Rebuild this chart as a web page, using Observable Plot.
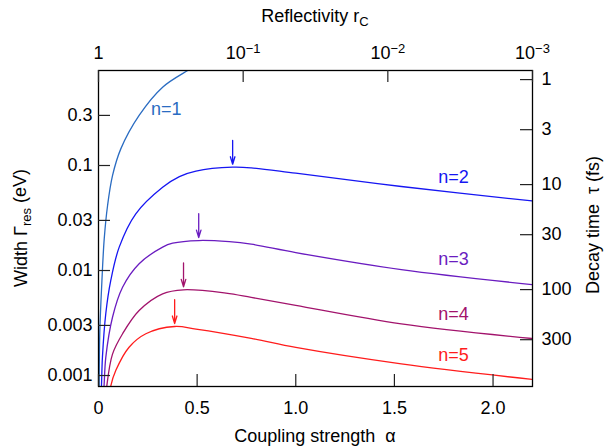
<!DOCTYPE html>
<html><head><meta charset="utf-8">
<script src="https://cdn.jsdelivr.net/npm/d3@7"></script>
<script src="https://cdn.jsdelivr.net/npm/@observablehq/plot@0.6"></script>
<style>
body{margin:0;background:#fff;}
#chart{width:604px;height:448px;}
</style></head><body><div id="chart"></div>
<script>
// ---- data ----
const seriesNames = ["1", "2", "3", "4", "5"];
const n1Alpha = [0.003, 0.0066, 0.017, 0.029, 0.046, 0.071, 0.113, 0.206, 0.325, 0.452, 0.52];
const n1Width = [0.0006, 0.00258, 0.00774, 0.020, 0.0416, 0.080, 0.144, 0.30, 0.557, 0.803, 0.95];
const n2Alpha = [0.010, 0.015, 0.020, 0.037, 0.062, 0.105, 0.189, 0.325, 0.41, 0.494, 0.68, 0.774, 1.0, 1.535, 2.21];
const n2Width = [0.0005, 0.00079, 0.0015, 0.0039, 0.0080, 0.0167, 0.0347, 0.0621, 0.0785, 0.0885, 0.0963, 0.0950, 0.0845, 0.0631, 0.0457];
const n3Alpha = [0.020, 0.028, 0.037, 0.071, 0.122, 0.206, 0.325, 0.376, 0.508, 0.663, 0.774, 1.0, 1.535, 2.21];
const n3Width = [0.0005, 0.00079, 0.00149, 0.00359, 0.00693, 0.0116, 0.0167, 0.0182, 0.0193, 0.0188, 0.0178, 0.0148, 0.0102, 0.00731];
const n4Alpha = [0.034, 0.042, 0.071, 0.122, 0.206, 0.325, 0.431, 0.646, 0.774, 1.0, 1.535, 2.21];
const n4Width = [0.0005, 0.00079, 0.0016, 0.0025, 0.00416, 0.0060, 0.00655, 0.0061, 0.00555, 0.00465, 0.0031, 0.00224];
const n5Alpha = [0.052, 0.062, 0.088, 0.155, 0.24, 0.386, 0.494, 0.774, 1.0, 1.535, 2.21];
const n5Width = [0.0005, 0.00079, 0.00112, 0.00186, 0.0025, 0.00293, 0.00277, 0.00226, 0.00185, 0.00129, 0.000912];

// maxima marked by arrows (n = 2..5)
const peakNames = ["2", "3", "4", "5"];
const peakAlpha = [0.68, 0.508, 0.431, 0.386];
const peakWidth = [0.0963, 0.0193, 0.00655, 0.00293];

// series labels
const labelAlpha = [0.344, 1.80, 1.80, 1.80, 1.80];
const labelWidth = [0.341, 0.0774, 0.01267, 0.00387, 0.00155];

// axes
const xTicks = [0, 0.5, 1, 1.5, 2];
const xTickLabels = ["0", "0.5", "1.0", "1.5", "2.0"];
const yTicks = [0.001, 0.003, 0.01, 0.03, 0.1, 0.3];
const yTickLabels = ["0.001", "0.003", "0.01", "0.03", "0.1", "0.3"];
const tauTicks = [1, 3, 10, 30, 100, 300];          // fs
const tauTickLabels = ["1", "3", "10", "30", "100", "300"];
const rTicks = [1, 0.1, 0.01, 0.001];
const rTickLabels = ["1", "10^−1", "10^−2", "10^−3"];
const hbar = 0.658;      // eV·fs, tau = hbar / Gamma
const alphaMax = 2.2;    // alpha at which r_C = 1e-3
const rMin = 0.001;

// ---- build tables ----
const alphas = [n1Alpha, n2Alpha, n3Alpha, n4Alpha, n5Alpha];
const widths = [n1Width, n2Width, n3Width, n4Width, n5Width];
const rows = seriesNames.flatMap((n, k) => alphas[k].map((a, i) => ({n, alpha: a, width: widths[k][i]})));
const peaks = peakNames.map((n, i) => ({n, alpha: peakAlpha[i], width: peakWidth[i]}));
const labels = seriesNames.map((n, i) => ({n, alpha: labelAlpha[i], width: labelWidth[i], text: "n=" + n}));
const tauRows = tauTicks.map((t, i) => ({width: hbar / t, label: tauTickLabels[i]}));
const tauPos = tauRows.map(d => d.width);
const rPos = rTicks.map(r => alphaMax * Math.log10(r) / Math.log10(rMin));

const colors = ["#2a6cc2", "#1616f2", "#6a1cc0", "#a2136c", "#ff1c1c"];

const W = 604, H = 448, mL = 98, mR = 72, mT = 70, mB = 62;
const frameW = W - mL - mR, frameH = H - mT - mB, tickLen = 12;
const FONT = "'Liberation Sans', Arial, Helvetica, sans-serif";

const chart = Plot.plot({
  width: W, height: H,
  marginLeft: mL, marginRight: mR, marginTop: mT, marginBottom: mB,
  style: {fontFamily: FONT, fontSize: "18px", background: "white", color: "black"},
  x: {domain: [0, alphaMax]},
  y: {type: "log", domain: [0.000786, 0.803]},
  color: {domain: seriesNames, range: colors},
  marks: [
    Plot.line(rows, {x: "alpha", y: "width", z: "n", stroke: "n", strokeWidth: 1.3, curve: "catmull-rom", clip: true}),
    Plot.arrow(peaks, {x1: "alpha", x2: "alpha", y1: d => d.width * 1.8, y2: "width", stroke: "n",
      strokeWidth: 1.3, insetEnd: 3, headLength: 9, headAngle: 34}),
    Plot.text(labels, {x: "alpha", y: "width", text: "text", fill: "n", fontSize: 18}),
    Plot.frame({stroke: "black", strokeWidth: 1.3}),
    Plot.axisX(xTicks, {anchor: "bottom", tickSize: 0, tickPadding: 15, label: null,
      tickFormat: d => xTickLabels[xTicks.indexOf(d)]}),
    Plot.axisX(rPos, {anchor: "top", tickSize: 0, tickPadding: 12, label: null,
      tickFormat: d => rTickLabels[rPos.indexOf(d)]}),
    Plot.axisY(yTicks, {anchor: "left", tickSize: 0, tickPadding: 6, label: null,
      tickFormat: d => yTickLabels[yTicks.indexOf(d)]}),
    Plot.text(tauRows, {y: "width", text: "label", frameAnchor: "right", textAnchor: "start", dx: 9, fontSize: 18, fill: "black"}),
    Plot.ruleX(xTicks, {insetTop: frameH - tickLen, stroke: "#222", strokeWidth: 1.2}),
    Plot.ruleX(rPos, {insetBottom: frameH - tickLen, stroke: "#222", strokeWidth: 1.2}),
    Plot.ruleY(yTicks, {insetRight: frameW - tickLen, stroke: "#222", strokeWidth: 1.2}),
    Plot.ruleY(tauPos, {insetLeft: frameW - tickLen, stroke: "#222", strokeWidth: 1.2})
  ]
});
document.getElementById("chart").appendChild(chart);

// superscripts for top tick labels
d3.select(chart).selectAll("text").each(function() {
  const t = this.textContent;
  if (t.includes("^")) {
    const [base, exp] = t.split("^");
    const sel = d3.select(this);
    sel.text(base);
    sel.append("tspan").attr("dy", "-0.45em").attr("font-size", "13px").text(exp);
  }
});

// axis titles
const svgSel = d3.select(chart);
const titles = svgSel.append("g").attr("font-family", FONT).attr("font-size", 18).attr("fill", "black");
const topTitle = titles.append("text").attr("x", mL + frameW / 2).attr("y", 22).attr("text-anchor", "middle");
topTitle.append("tspan").text("Reflectivity r");
topTitle.append("tspan").attr("dy", "0.3em").attr("font-size", "13px").text("C");
titles.append("text").attr("x", mL + frameW / 2).attr("y", 442).attr("text-anchor", "middle").text("Coupling strength  α");
const leftTitle = titles.append("text").attr("transform", `translate(27,${mT + frameH / 2}) rotate(-90)`).attr("text-anchor", "middle");
leftTitle.append("tspan").text("Width Γ");
leftTitle.append("tspan").attr("dy", "0.3em").attr("font-size", "13px").text("res");
leftTitle.append("tspan").attr("dy", "-0.3em").text(" (eV)");
titles.append("text").attr("transform", `translate(599,${mT + frameH / 2 - 3}) rotate(-90)`).attr("text-anchor", "middle").text("Decay time  τ (fs)");
</script>
</body></html>
